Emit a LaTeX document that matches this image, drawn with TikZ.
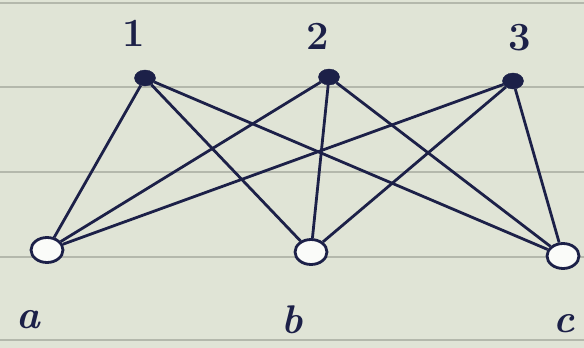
\documentclass[tikz,border=0pt]{standalone}
\usepackage{tikz}
\usetikzlibrary{shapes.geometric}

\definecolor{paper}{RGB}{224,228,214}
\definecolor{rule}{RGB}{180,184,172}
\definecolor{ink}{RGB}{28,32,72}

\begin{document}
\begin{tikzpicture}[
  x=1pt, y=-1pt,
  topvertex/.style={ellipse, draw=ink, fill=ink, minimum width=21pt, minimum height=16pt, inner sep=0pt},
  botvertex/.style={ellipse, draw=ink, line width=2.8pt, fill=white!85!paper, minimum width=32pt, minimum height=25pt, inner sep=0pt},
  vlabel/.style={text=ink, font=\fontsize{40}{40}\selectfont\bfseries, inner sep=0pt},
  edge/.style={draw=ink, line width=2.8pt}
]
% paper and its ruled lines
\fill[paper] (0,0) rectangle (584,348);
\useasboundingbox (0,0) rectangle (584,348);
\foreach \yy in {3,87,172,257,340}
  \draw[rule, line width=1.2pt] (0,\yy) -- (584,\yy);

% vertices
\node[topvertex] (one) at (145,78) {};
\node[topvertex] (two) at (329,77) {};
\node[topvertex] (three) at (513,81) {};
\node[botvertex] (a) at (47,250) {};
\node[botvertex] (b) at (311,252) {};
\node[botvertex] (c) at (563,256) {};

% labels
\node[vlabel] (lone) at (134,33) {1};
\node[vlabel] (ltwo) at (318,36) {2};
\node[vlabel] (lthree) at (520,38) {3};
\node[vlabel] (la) at (28,320) {\itshape a};
\node[vlabel] (lb) at (292,320) {\itshape b};
\node[vlabel] (lc) at (564,324) {\itshape c};

% edges
\foreach \u in {one,two,three}
  \foreach \v in {a,b,c}
    \draw[edge] (\u) -- (\v);
\end{tikzpicture}
\end{document}
